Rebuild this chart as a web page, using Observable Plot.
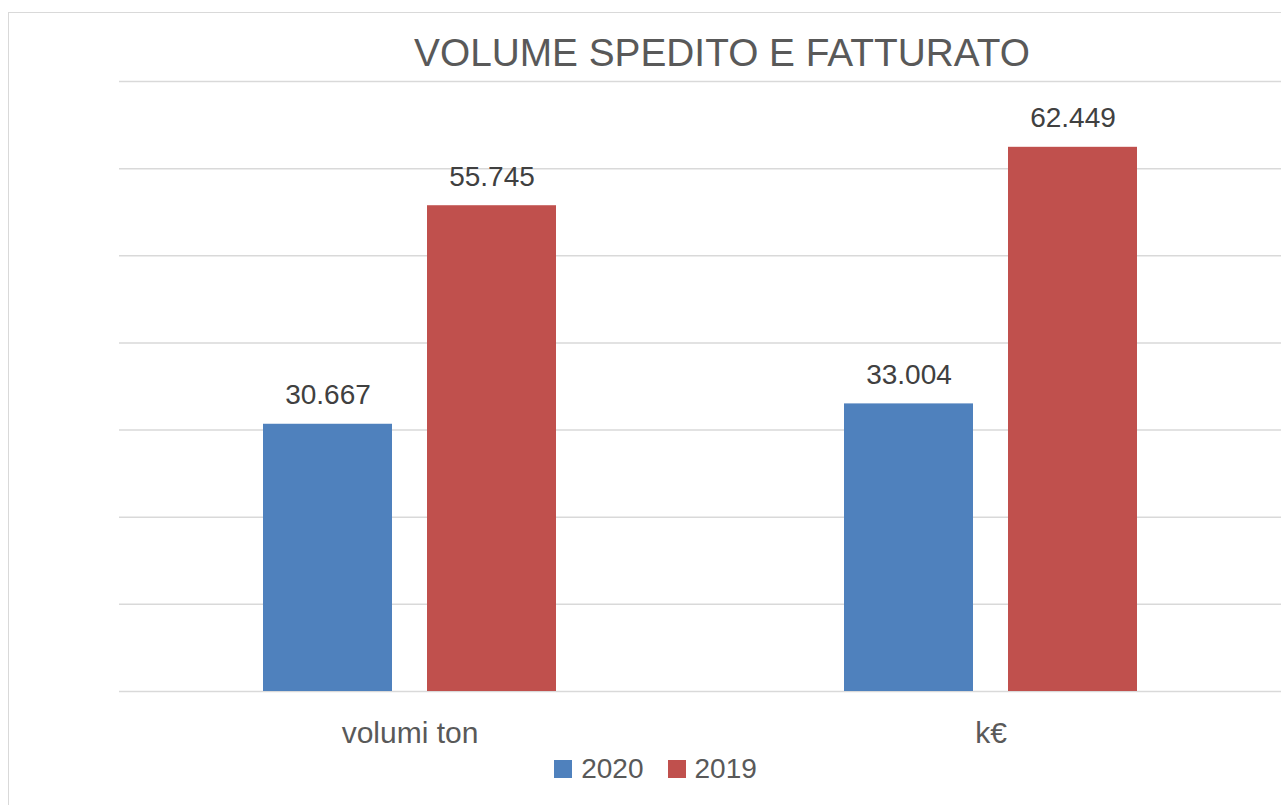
<!DOCTYPE html>
<html>
<head>
<meta charset="utf-8">
<script src="https://cdn.jsdelivr.net/npm/d3@7"></script>
<script src="https://cdn.jsdelivr.net/npm/@observablehq/plot@0.6"></script>
<style>
  html, body { margin: 0; padding: 0; background: #fff; overflow: hidden; }
  body { width: 1281px; height: 805px; position: relative; font-family: "Liberation Sans", Arial, sans-serif; }
  #border { position: absolute; left: 8px; top: 12px; width: 1400px; height: 900px; border: 1.5px solid #d9d9d9; pointer-events: none; }
  #title { box-sizing: border-box; height: 71px; padding-top: 34px; padding-left: 163px; line-height: 38px; font-size: 38.8px; text-align: center; color: #595959; white-space: nowrap; }
  #chart svg { display: block; }
  #legend { box-sizing: border-box; height: 34px; padding-left: 30px; display: flex; justify-content: center; align-items: center; font-size: 28px; color: #595959; }
  .item { display: flex; align-items: center; margin: 0 12px; }
  .sw { width: 18px; height: 18px; margin-right: 9px; }
</style>
</head>
<body>
<div id="border"></div>
<div id="title">VOLUME SPEDITO E FATTURATO</div>
<div id="chart"></div>
<div id="legend"></div>
<script>
const categories = ["volumi ton", "k€"];
const years = ["2020", "2019"];
const values2020 = [30667, 33004];
const values2019 = [55745, 62449];
const yTicks = [0, 10000, 20000, 30000, 40000, 50000, 60000, 70000];
const colors = ["#4F81BD", "#C0504D"];

const data = categories.flatMap((c, i) => [
  {cat: c, year: years[0], value: values2020[i]},
  {cat: c, year: years[1], value: values2019[i]}
]);

const fmt = d3.formatLocale({decimal: ",", thousands: ".", grouping: [3], currency: ["€", ""]}).format(",d");

const plot = Plot.plot({
  width: 1281,
  height: 681,
  marginLeft: 119,
  marginRight: 0,
  marginTop: 10,
  marginBottom: 61,
  style: {fontFamily: "'Liberation Sans', Arial, sans-serif", background: "transparent", overflow: "visible"},
  fx: {domain: categories, padding: 0, label: null},
  x: {domain: years, paddingInner: 0.212, paddingOuter: 0.867, axis: null},
  y: {domain: [0, 70000], axis: null},
  color: {domain: years, range: colors},
  marks: [
    Plot.ruleY(yTicks, {stroke: "#d9d9d9", strokeWidth: 1.5}),
    Plot.barY(data, {fx: "cat", x: "year", y: "value", fill: "year"}),
    Plot.text(data, {fx: "cat", x: "year", y: "value", text: d => fmt(d.value), lineAnchor: "bottom", dy: -20, fontSize: 28, fill: "#404040"}),
    Plot.axisFx({anchor: "bottom", tickSize: 0, tickPadding: 30, fontSize: 30, color: "#595959", label: null})
  ]
});
document.getElementById("chart").appendChild(plot);

const legend = document.getElementById("legend");
years.forEach((y, i) => {
  const item = document.createElement("div");
  item.className = "item";
  const sw = document.createElement("div");
  sw.className = "sw";
  sw.style.background = colors[i];
  const t = document.createElement("span");
  t.textContent = y;
  item.appendChild(sw);
  item.appendChild(t);
  legend.appendChild(item);
});
</script>
</body>
</html>
